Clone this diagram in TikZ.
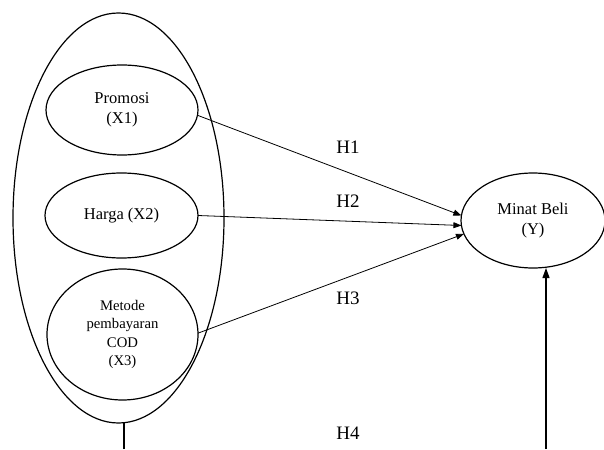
\documentclass[tikz,border=0pt]{standalone}
\usepackage{fontspec}
\setmainfont{Liberation Serif}
\usetikzlibrary{shapes.geometric,arrows.meta}
\begin{document}
\begin{tikzpicture}[x=1pt,y=-1pt,
  oval/.style={draw,line width=1.2pt,ellipse,inner sep=0pt,outer sep=0pt,align=center},
  conn/.style={line width=0.8pt,-{Triangle[length=8pt,width=6pt]}},
  hlabel/.style={font=\fontsize{19}{22}\selectfont,inner sep=0pt}]
\useasboundingbox (0,0) rectangle (604,449);
\node[oval,minimum width=211pt,minimum height=410pt] (big) at (118.5,218) {};
\node[oval,minimum width=152pt,minimum height=90pt,font=\fontsize{16.5}{20}\selectfont] (p) at (122,110) {Promosi\\(X1)};
\node[oval,minimum width=153pt,minimum height=85pt,font=\fontsize{16.5}{20}\selectfont] (h) at (121.5,215.5) {Harga (X2)};
\node[oval,minimum width=151pt,minimum height=131pt,font=\fontsize{14.7}{18.3}\selectfont] (m) at (122.5,334.5) {Metode\\pembayaran\\COD\\(X3)};
\node[oval,minimum width=144pt,minimum height=95pt,font=\fontsize{16.5}{20}\selectfont] (y) at (533,220.5) {Minat Beli\\(Y)};
\node[hlabel] (h1) at (348,147) {H1};
\node[hlabel] (h2) at (348,201) {H2};
\node[hlabel] (h3) at (348,298) {H3};
\node[hlabel] (h4) at (348,433) {H4};
\coordinate (c) at (124,449);
\coordinate (b) at (546,449);
\draw[conn] (p.-4) -- (y.176);
\draw[conn] (h.east) -- (y.184);
\draw[conn] (m.1) -- (y.191);
\draw[line width=1.2pt] (c) -- (c |- big.south);
\draw[line width=1.2pt,-{Triangle[length=10pt,width=7pt]}] (b) -- (546,268);
\end{tikzpicture}
\end{document}
